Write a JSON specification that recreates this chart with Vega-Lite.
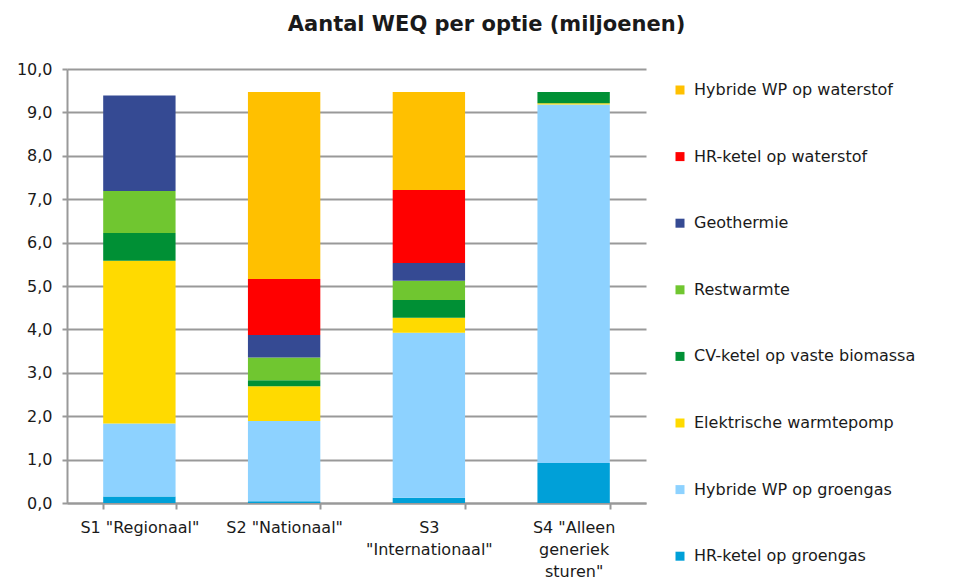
{
  "$schema": "https://vega.github.io/schema/vega-lite/v6.json",
  "autosize": {"type": "none"},
  "padding": {"left": 67, "top": 69, "right": 332, "bottom": 81},
  "width": 579,
  "height": 434,
  "background": "white",
  "title": {
    "text": "Aantal WEQ per optie (miljoenen)",
    "font": "DejaVu Sans",
    "fontSize": 21,
    "fontWeight": "bold",
    "color": "#1a1a1a",
    "anchor": "middle",
    "frame": "group",
    "dx": 130,
    "offset": 26
  },
  "data": {
    "values": [
      {"scenario": "S1 \"Regionaal\"", "optie": "HR-ketel op groengas", "waarde": 0.15},
      {"scenario": "S1 \"Regionaal\"", "optie": "Hybride WP op groengas", "waarde": 1.68},
      {"scenario": "S1 \"Regionaal\"", "optie": "Elektrische warmtepomp", "waarde": 3.75},
      {"scenario": "S1 \"Regionaal\"", "optie": "CV-ketel op vaste biomassa", "waarde": 0.64},
      {"scenario": "S1 \"Regionaal\"", "optie": "Restwarmte", "waarde": 0.97},
      {"scenario": "S1 \"Regionaal\"", "optie": "Geothermie", "waarde": 2.2},
      {"scenario": "S1 \"Regionaal\"", "optie": "HR-ketel op waterstof", "waarde": 0},
      {"scenario": "S1 \"Regionaal\"", "optie": "Hybride WP op waterstof", "waarde": 0},
      {"scenario": "S2 \"Nationaal\"", "optie": "HR-ketel op groengas", "waarde": 0.04},
      {"scenario": "S2 \"Nationaal\"", "optie": "Hybride WP op groengas", "waarde": 1.85},
      {"scenario": "S2 \"Nationaal\"", "optie": "Elektrische warmtepomp", "waarde": 0.8},
      {"scenario": "S2 \"Nationaal\"", "optie": "CV-ketel op vaste biomassa", "waarde": 0.14},
      {"scenario": "S2 \"Nationaal\"", "optie": "Restwarmte", "waarde": 0.52},
      {"scenario": "S2 \"Nationaal\"", "optie": "Geothermie", "waarde": 0.52},
      {"scenario": "S2 \"Nationaal\"", "optie": "HR-ketel op waterstof", "waarde": 1.29},
      {"scenario": "S2 \"Nationaal\"", "optie": "Hybride WP op waterstof", "waarde": 4.31},
      {"scenario": "S3 \"Internationaal\"", "optie": "HR-ketel op groengas", "waarde": 0.12},
      {"scenario": "S3 \"Internationaal\"", "optie": "Hybride WP op groengas", "waarde": 3.8},
      {"scenario": "S3 \"Internationaal\"", "optie": "Elektrische warmtepomp", "waarde": 0.35},
      {"scenario": "S3 \"Internationaal\"", "optie": "CV-ketel op vaste biomassa", "waarde": 0.41},
      {"scenario": "S3 \"Internationaal\"", "optie": "Restwarmte", "waarde": 0.44},
      {"scenario": "S3 \"Internationaal\"", "optie": "Geothermie", "waarde": 0.41},
      {"scenario": "S3 \"Internationaal\"", "optie": "HR-ketel op waterstof", "waarde": 1.68},
      {"scenario": "S3 \"Internationaal\"", "optie": "Hybride WP op waterstof", "waarde": 2.26},
      {"scenario": "S4 \"Alleen generiek sturen\"", "optie": "HR-ketel op groengas", "waarde": 0.92},
      {"scenario": "S4 \"Alleen generiek sturen\"", "optie": "Hybride WP op groengas", "waarde": 8.26},
      {"scenario": "S4 \"Alleen generiek sturen\"", "optie": "Elektrische warmtepomp", "waarde": 0.03},
      {"scenario": "S4 \"Alleen generiek sturen\"", "optie": "CV-ketel op vaste biomassa", "waarde": 0.26},
      {"scenario": "S4 \"Alleen generiek sturen\"", "optie": "Restwarmte", "waarde": 0},
      {"scenario": "S4 \"Alleen generiek sturen\"", "optie": "Geothermie", "waarde": 0},
      {"scenario": "S4 \"Alleen generiek sturen\"", "optie": "HR-ketel op waterstof", "waarde": 0},
      {"scenario": "S4 \"Alleen generiek sturen\"", "optie": "Hybride WP op waterstof", "waarde": 0}
    ]
  },
  "transform": [
    {"calculate": "indexof(['Hybride WP op waterstof', 'HR-ketel op waterstof', 'Geothermie', 'Restwarmte', 'CV-ketel op vaste biomassa', 'Elektrische warmtepomp', 'Hybride WP op groengas', 'HR-ketel op groengas'], datum.optie)", "as": "volgorde"}
  ],
  "mark": {"type": "bar"},
  "encoding": {
    "x": {
      "field": "scenario",
      "type": "nominal",
      "sort": null,
      "scale": {"paddingInner": 0.5, "paddingOuter": 0.25},
      "axis": {
        "title": null,
        "labelAngle": 0,
        "labelFont": "DejaVu Sans",
        "labelFontSize": 16,
        "labelColor": "#1a1a1a",
        "labelLineHeight": 22,
        "labelPadding": 10,
        "labelBaseline": "top",
        "labelExpr": "datum.value == 'S3 \"Internationaal\"' ? ['S3', '\"Internationaal\"'] : datum.value == 'S4 \"Alleen generiek sturen\"' ? ['S4 \"Alleen', 'generiek', 'sturen\"'] : datum.value",
        "bandPosition": 0,
        "tickBand": "extent",
        "ticks": true,
        "tickSize": 6,
        "tickWidth": 2,
        "tickColor": "#999999",
        "domainColor": "#999999",
        "domainWidth": 2,
        "grid": false
      }
    },
    "y": {
      "field": "waarde",
      "type": "quantitative",
      "stack": "zero",
      "scale": {"domain": [0, 10], "nice": false},
      "axis": {
        "title": null,
        "values": [0, 1, 2, 3, 4, 5, 6, 7, 8, 9, 10],
        "labelExpr": "replace(format(datum.value, '.1f'), '.', ',')",
        "labelFont": "DejaVu Sans",
        "labelFontSize": 16,
        "labelColor": "#1a1a1a",
        "labelPadding": 10,
        "tickSize": 5,
        "tickWidth": 2,
        "tickColor": "#999999",
        "domainColor": "#999999",
        "domainWidth": 2,
        "grid": true,
        "gridColor": "#999999",
        "gridWidth": 2
      }
    },
    "order": {"field": "volgorde", "type": "quantitative", "sort": "descending"},
    "color": {
      "field": "optie",
      "type": "nominal",
      "scale": {
        "domain": ["Hybride WP op waterstof", "HR-ketel op waterstof", "Geothermie", "Restwarmte", "CV-ketel op vaste biomassa", "Elektrische warmtepomp", "Hybride WP op groengas", "HR-ketel op groengas"],
        "range": ["#FFC000", "#FF0000", "#354A93", "#70C630", "#009035", "#FFDA00", "#8DD2FF", "#00A0D8"]
      },
      "legend": {
        "title": null,
        "orient": "none",
        "legendX": 605,
        "legendY": 13,
        "padding": 0,
        "symbolType": "square",
        "symbolSize": 81,
        "symbolStrokeWidth": 0,
        "labelOffset": 6,
        "labelFont": "DejaVu Sans",
        "labelFontSize": 16,
        "labelColor": "#1a1a1a",
        "rowPadding": 50.6,
        "labelLimit": 400
      }
    }
  },
  "config": {
    "view": {"stroke": null}
  }
}
